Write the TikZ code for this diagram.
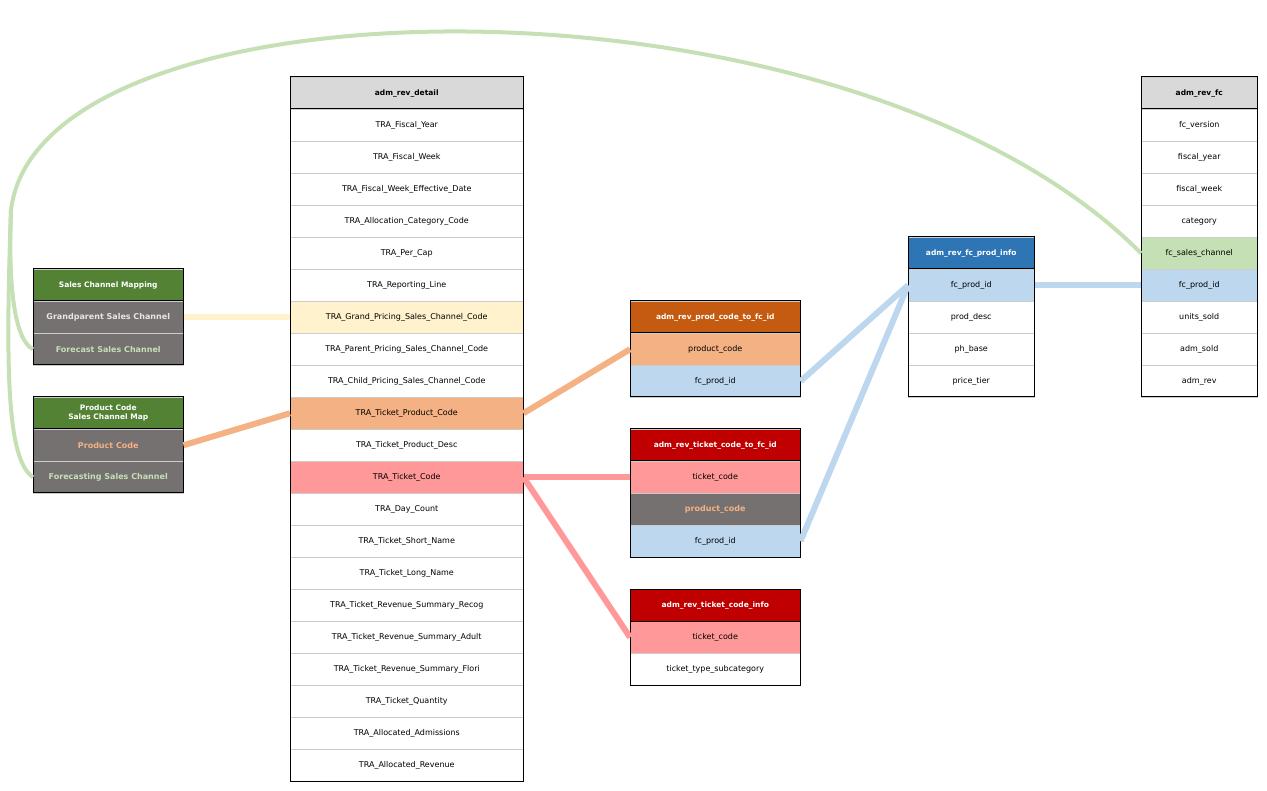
\documentclass[tikz,border=0pt]{standalone}
\usepackage{fontspec}
\setmainfont{DejaVu Sans}
\definecolor{cream}{HTML}{FFF2CC}
\definecolor{orng}{HTML}{F4B183}
\definecolor{pnk}{HTML}{FF9999}
\definecolor{lblue}{HTML}{BDD7EE}
\definecolor{lgreen}{HTML}{C5E0B4}
\definecolor{hgray}{HTML}{D9D9D9}
\definecolor{hblue}{HTML}{2E75B6}
\definecolor{hbrown}{HTML}{C55A11}
\definecolor{hred}{HTML}{C00000}
\definecolor{hgreen}{HTML}{548235}
\definecolor{dgray}{HTML}{767171}
\definecolor{ltxt}{HTML}{E7E6E6}
\newcommand\mytable[9]{%
  \node[cell,fill=#6,text=#7,font=\fontsize{7.5}{9}\selectfont\bfseries,minimum width=#4] (#1h) at (#2,#3) {#5};
  \foreach \t/\f/\c [count=\i] in {#8}
    \node[cell,fill=\f,text=\c,minimum width=#4] (#1\i) at (#2,#3+\i*32) {\t};
  \draw[line width=1pt] (#2,#3) rectangle (#2+#4,#3+32+#9*32);
  \draw[line width=1pt] (#2,#3+32) -- (#2+#4,#3+32);
}
\begin{document}
\begin{tikzpicture}[x=1pt,y=-1pt,
  cell/.style={draw=black!20,line width=0.5pt,minimum height=32pt,inner sep=0pt,anchor=north west,align=center,font=\fontsize{8}{9}\selectfont},
  link/.style={line width=6pt}]
\useasboundingbox (0,0) rectangle (1267,791);
% links first
\coordinate (g) at (11,210);
\mytable{d}{290}{77}{233}{adm\_rev\_detail}{hgray}{black}{
TRA\_Fiscal\_Year/white/black,
TRA\_Fiscal\_Week/white/black,
TRA\_Fiscal\_Week\_Effective\_Date/white/black,
TRA\_Allocation\_Category\_Code/white/black,
TRA\_Per\_Cap/white/black,
TRA\_Reporting\_Line/white/black,
TRA\_Grand\_Pricing\_Sales\_Channel\_Code/cream/black,
TRA\_Parent\_Pricing\_Sales\_Channel\_Code/white/black,
TRA\_Child\_Pricing\_Sales\_Channel\_Code/white/black,
TRA\_Ticket\_Product\_Code/orng/black,
TRA\_Ticket\_Product\_Desc/white/black,
TRA\_Ticket\_Code/pnk/black,
TRA\_Day\_Count/white/black,
TRA\_Ticket\_Short\_Name/white/black,
TRA\_Ticket\_Long\_Name/white/black,
TRA\_Ticket\_Revenue\_Summary\_Recog/white/black,
TRA\_Ticket\_Revenue\_Summary\_Adult/white/black,
TRA\_Ticket\_Revenue\_Summary\_Flori/white/black,
TRA\_Ticket\_Quantity/white/black,
TRA\_Allocated\_Admissions/white/black,
TRA\_Allocated\_Revenue/white/black}{21}
\mytable{f}{1141}{77}{116}{adm\_rev\_fc}{hgray}{black}{
fc\_version/white/black,
fiscal\_year/white/black,
fiscal\_week/white/black,
category/white/black,
fc\_sales\_channel/lgreen/black,
fc\_prod\_id/lblue/black,
units\_sold/white/black,
adm\_sold/white/black,
adm\_rev/white/black}{9}
\mytable{p}{908}{237}{126}{adm\_rev\_fc\_prod\_info}{hblue}{white}{
fc\_prod\_id/lblue/black,
prod\_desc/white/black,
ph\_base/white/black,
price\_tier/white/black}{4}
\mytable{a}{630}{301}{170}{adm\_rev\_prod\_code\_to\_fc\_id}{hbrown}{white}{
product\_code/orng/black,
fc\_prod\_id/lblue/black}{2}
\mytable{b}{630}{429}{170}{adm\_rev\_ticket\_code\_to\_fc\_id}{hred}{white}{
ticket\_code/pnk/black,
\textbf{product\_code}/dgray/orng,
fc\_prod\_id/lblue/black}{3}
\mytable{c}{630}{589}{170}{adm\_rev\_ticket\_code\_info}{hred}{white}{
ticket\_code/pnk/black,
ticket\_type\_subcategory/white/black}{2}
\mytable{s}{33}{269}{150}{Sales Channel Mapping}{hgreen}{white}{
\textbf{Grandparent Sales Channel}/dgray/ltxt,
\textbf{Forecast Sales Channel}/dgray/lgreen}{2}
\mytable{q}{33}{397}{150}{Product Code\\Sales Channel Map}{hgreen}{white}{
\textbf{Product Code}/dgray/orng,
\textbf{Forecasting Sales Channel}/dgray/lgreen}{2}
% connectors
\draw[link,cream] (s1.east) -- (d7.west);
\draw[link,orng] (q1.east) -- (d10.west);
\draw[link,orng] (d10.east) -- (a1.west);
\draw[link,pnk] (d12.east) -- (b1.west);
\draw[link,pnk] (d12.east) -- (c1.west);
\draw[link,lblue] (a2.east) -- (p1.west);
\draw[link,lblue] (b3.east) -- (p1.west);
\draw[link,lblue] (p1.east) -- (f6.west);
\draw[line width=4pt,lgreen] (f5.west) .. controls (850,-40) and (40,-30) .. (g);
\draw[line width=4pt,lgreen] (g) .. controls (8,290) and (15,340) .. (s2.west);
\draw[line width=4pt,lgreen] (g) .. controls (5,380) and (8,460) .. (q2.west);
\end{tikzpicture}
\end{document}
